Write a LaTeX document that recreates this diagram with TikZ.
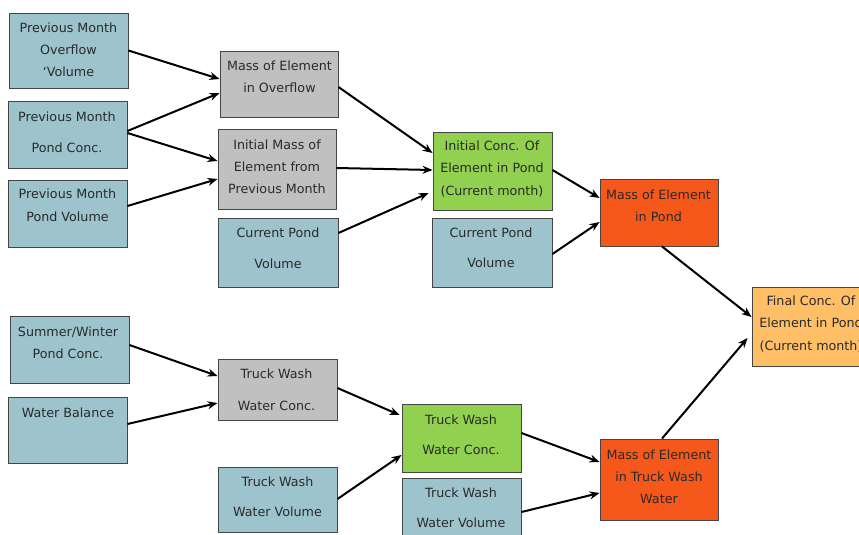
\documentclass[tikz,border=0pt]{standalone}
\usepackage{fontspec}
\setmainfont{DejaVu Sans}
\usetikzlibrary{arrows.meta}

\definecolor{inblue}{HTML}{9DC3CD}
\definecolor{midgray}{HTML}{C0C0C0}
\definecolor{calcgreen}{HTML}{92D050}
\definecolor{massred}{HTML}{F5581A}
\definecolor{finalorange}{HTML}{FFBF66}
\definecolor{boxline}{HTML}{454545}
\definecolor{txt}{HTML}{2A2A2A}

\tikzset{
  box/.style={draw=boxline, line width=0.9pt, inner sep=0pt, anchor=center},
  lbl/.style={align=center, text=txt, inner sep=0pt,
              font=\fontsize{12.7}{22}\selectfont},
  flow/.style={line width=2pt, -{Stealth[length=10pt,width=8pt]}},
}

\begin{document}
\begin{tikzpicture}[x=1pt,y=-1pt]
\clip (0,0) rectangle (859,535);
\fill[white] (0,0) rectangle (859,535);

% ---- boxes ----
\node[box, fill=inblue, minimum width=119pt, minimum height=75pt] (pmov)  at (68.5,50.5) {};
\node[box, fill=inblue, minimum width=119pt, minimum height=67pt] (pmpc)  at (67.5,134.5) {};
\node[box, fill=inblue, minimum width=119pt, minimum height=67pt] (pmpv)  at (67.5,213.5) {};
\node[box, fill=midgray, minimum width=118pt, minimum height=66pt] (meo)  at (279,84) {};
\node[box, fill=midgray, minimum width=118pt, minimum height=80pt] (imepm) at (277,169) {};
\node[box, fill=inblue, minimum width=120pt, minimum height=69pt] (cpva)  at (278,252.5) {};
\node[box, fill=calcgreen, minimum width=119pt, minimum height=78pt] (icep) at (492.5,171) {};
\node[box, fill=inblue, minimum width=120pt, minimum height=69pt] (cpvb)  at (492,252.5) {};
\node[box, fill=massred, minimum width=118pt, minimum height=67pt] (mep)   at (659,212.5) {};
\node[box, fill=finalorange, minimum width=119pt, minimum height=79pt] (final) at (811.5,326.5) {};

\node[box, fill=inblue, minimum width=119pt, minimum height=67pt] (swpc)  at (69.5,349.5) {};
\node[box, fill=inblue, minimum width=119pt, minimum height=66pt] (wb)    at (67.5,430) {};
\node[box, fill=midgray, minimum width=119pt, minimum height=61pt] (twcg) at (277.5,389.5) {};
\node[box, fill=inblue, minimum width=119pt, minimum height=65pt] (twva)  at (277.5,499.5) {};
\node[box, fill=calcgreen, minimum width=119pt, minimum height=68pt] (twcc) at (461.5,438) {};
\node[box, fill=inblue, minimum width=119pt, minimum height=62pt] (twvb)  at (461.5,509) {};
\node[box, fill=massred, minimum width=118pt, minimum height=81pt] (metw)  at (659,479.5) {};

% ---- labels ----
\node[lbl] (pmov-t)  at (68.5,50)  {Previous Month\\Overflow\\‘Volume};
\node[lbl] (pmpc-t)  at (67,132.5) {Previous Month\\[9pt]Pond Conc.};
\node[lbl] (pmpv-t)  at (67.5,205.5) {Previous Month\\[1pt]Pond Volume};
\node[lbl] (meo-t)   at (279.5,77) {Mass of Element\\in Overflow};
\node[lbl] (imepm-t) at (277,167)  {Initial Mass of\\Element from\\Previous Month};
\node[lbl] (cpva-t)  at (278,248.5) {Current Pond\\[9pt]Volume};
\node[lbl] (icep-t)  at (492,169)  {Initial Conc. Of\\[0.5pt]Element in Pond\\[0.5pt](Current month)};
\node[lbl] (cpvb-t)  at (491,248)  {Current Pond\\[8pt]Volume};
\node[lbl] (mep-t)   at (658.5,206) {Mass of Element\\in Pond};
\node[lbl] (final-t) at (811,324)  {Final Conc. Of\\[0.5pt]Element in Pond\\[0.5pt](Current month)};

\node[lbl] (swpc-t)  at (68,343)   {Summer/Winter\\Pond Conc.};
\node[lbl] (wb-t)    at (68,413)   {Water Balance};
\node[lbl] (twcg-t)  at (276.5,390) {Truck Wash\\[10pt]Water Conc.};
\node[lbl] (twva-t)  at (277.5,497) {Truck Wash\\[8pt]Water Volume};
\node[lbl] (twcc-t)  at (461,435)  {Truck Wash\\[8pt]Water Conc.};
\node[lbl] (twvb-t)  at (461,508)  {Truck Wash\\[8pt]Water Volume};
\node[lbl] (metw-t)  at (659,477)  {Mass of Element\\in Truck Wash\\Water};

% ---- connectors ----
\draw[flow] (pmov.east) -- ([yshift=5pt]meo.west);
\draw[flow] ([yshift=3.5pt]pmpc.east) -- ([yshift=-9pt]meo.west);
\draw[flow] ([yshift=1.5pt]pmpc.east) -- ([yshift=8pt]imepm.west);
\draw[flow] ([yshift=7.5pt]pmpv.east) -- ([yshift=-10pt]imepm.west);
\draw[flow] ([yshift=-3pt]meo.east) -- ([yshift=18pt]icep.west);
\draw[flow] ([yshift=1pt]imepm.east) -- ([yshift=1pt]icep.west);
\draw[flow] ([yshift=19.5pt]cpva.east) -- ([xshift=-4pt,yshift=-22pt]icep.west);
\draw[flow] ([yshift=1pt]icep.east) -- ([yshift=14.5pt]mep.west);
\draw[flow] ([yshift=-1.5pt]cpvb.east) -- ([yshift=-9.5pt]mep.west);
\draw[flow] ([xshift=3pt]mep.south) -- ([yshift=9.5pt]final.west);
\draw[flow] ([xshift=3pt]metw.north) -- ([xshift=-4pt,yshift=-11.5pt]final.west);

\draw[flow] ([yshift=4.5pt]swpc.east) -- ([yshift=13.5pt]twcg.west);
\draw[flow] ([yshift=6pt]wb.east) -- ([yshift=-13.5pt]twcg.west);
\draw[flow] ([yshift=1.5pt]twcg.east) -- ([xshift=-2pt,yshift=23pt]twcc.west);
\draw[flow] ([yshift=0.5pt]twva.east) -- ([yshift=-17pt]twcc.west);
\draw[flow] ([yshift=5pt]twcc.east) -- ([yshift=17.5pt]metw.west);
\draw[flow] ([yshift=-3pt]twvb.east) -- ([yshift=-13.5pt]metw.west);
\end{tikzpicture}
\end{document}
